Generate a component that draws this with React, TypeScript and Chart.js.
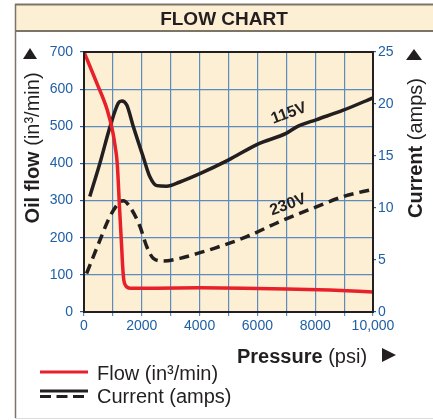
import { useEffect, useRef } from 'react';
import { Chart, registerables } from 'chart.js';

Chart.register(...registerables);

// ---- data ----
const flowPressure = [0, 450, 800, 1000, 1080, 1150, 1230, 1300, 1340, 1380, 1450, 1600, 2500, 4000, 5500, 7000, 8500, 10000];
const flowValues = [700, 615, 545, 483, 445, 400, 280, 180, 120, 85, 70, 64, 64, 65, 64, 62, 59, 54];

const amps115Pressure = [200, 550, 900, 1190, 1310, 1480, 1710, 2050, 2280, 2520, 2860, 3320, 4010, 4990, 5980, 7010, 7360, 8050, 8970, 10000];
const amps115Values = [11.1, 14.3, 17.8, 20.1, 20.3, 19.9, 17.8, 14.9, 13.0, 12.15, 12.1, 12.5, 13.3, 14.6, 16.1, 17.2, 17.8, 18.5, 19.4, 20.6];

const amps230Pressure = [90, 550, 900, 1250, 1360, 1590, 1940, 2170, 2400, 2750, 3320, 4130, 4480, 5630, 6780, 7940, 8970, 10000];
const amps230Values = [3.7, 6.9, 9.2, 10.6, 10.7, 10.1, 8.2, 6.3, 5.16, 4.9, 5.16, 5.8, 6.1, 7.24, 8.7, 10.0, 11.1, 11.8];

const xTickValues = [0, 2000, 4000, 6000, 8000, 10000];
const xTickLabels = ['0', '2000', '4000', '6000', '8000', '10,000'];

const lineLabels = ['115V', '230V'];
const lineLabelPressure = [7090, 7060];
const lineLabelAmps = [19.1, 10.3];

const BEIGE = '#fdefd3';
const BLUE = '#1f5fa6';
const GRID = '#5b8bbf';
const INK = '#231f20';
const RED = '#e8202a';
const FONT = '"Liberation Sans", Arial, Helvetica, sans-serif';

function pts(xs: number[], ys: number[]) {
  return xs.map((x, i) => ({ x, y: ys[i] }));
}

function mixedText(ctx: CanvasRenderingContext2D, parts: [string, string][], x: number, y: number, center: boolean) {
  let total = 0;
  for (const [t, f] of parts) {
    ctx.font = f;
    total += ctx.measureText(t).width;
  }
  let cx = center ? x - total / 2 : x;
  for (const [t, f] of parts) {
    ctx.font = f;
    ctx.fillText(t, cx, y);
    cx += ctx.measureText(t).width;
  }
}

function tri(ctx: CanvasRenderingContext2D, p: number[][]) {
  ctx.beginPath();
  ctx.moveTo(p[0][0], p[0][1]);
  ctx.lineTo(p[1][0], p[1][1]);
  ctx.lineTo(p[2][0], p[2][1]);
  ctx.closePath();
  ctx.fill();
}

const decor = {
  id: 'decor',
  beforeDraw(chart: any) {
    const { ctx, chartArea: a } = chart;
    ctx.save();
    ctx.fillStyle = '#ffffff';
    ctx.fillRect(0, 0, chart.width, chart.height);
    // title band
    ctx.fillStyle = BEIGE;
    ctx.fillRect(15, 4, 418, 27);
    ctx.strokeStyle = '#7b7568';
    ctx.lineWidth = 2;
    ctx.beginPath();
    ctx.moveTo(15, 4.5); ctx.lineTo(433, 4.5);
    ctx.moveTo(15, 31); ctx.lineTo(433, 31);
    ctx.stroke();
    ctx.lineWidth = 1.5;
    ctx.beginPath();
    ctx.moveTo(15.5, 4); ctx.lineTo(15.5, 418);
    ctx.stroke();
    ctx.strokeStyle = '#dcdcdc';
    ctx.lineWidth = 1;
    ctx.beginPath();
    ctx.moveTo(15, 418.5); ctx.lineTo(433, 418.5);
    ctx.stroke();
    // plot background
    ctx.fillStyle = BEIGE;
    ctx.fillRect(a.left, a.top, a.right - a.left, a.bottom - a.top);
    ctx.restore();
  },
  afterDraw(chart: any) {
    const { ctx, chartArea: a, scales } = chart;
    ctx.save();
    // plot frame
    ctx.strokeStyle = INK;
    ctx.lineWidth = 2;
    ctx.strokeRect(a.left, a.top, a.right - a.left, a.bottom - a.top);

    ctx.fillStyle = INK;
    ctx.textBaseline = 'alphabetic';
    // title
    ctx.textAlign = 'center';
    ctx.font = `bold 19px ${FONT}`;
    ctx.fillText('FLOW CHART', 224, 25);
    ctx.textAlign = 'left';

    // left axis title
    ctx.save();
    ctx.translate(39, 148);
    ctx.rotate(-Math.PI / 2);
    mixedText(ctx, [['Oil flow ', `bold 20px ${FONT}`], ['(in³/min)', `20px ${FONT}`]], 0, 0, true);
    ctx.restore();
    // right axis title
    ctx.save();
    ctx.translate(422, 148);
    ctx.rotate(-Math.PI / 2);
    mixedText(ctx, [['Current ', `bold 20px ${FONT}`], ['(amps)', `20px ${FONT}`]], 0, 0, true);
    ctx.restore();
    // x axis title
    mixedText(ctx, [['Pressure ', `bold 20px ${FONT}`], ['(psi)', `20px ${FONT}`]], 237, 363, false);

    // arrows
    tri(ctx, [[23, 59], [37, 59], [30, 48]]);
    tri(ctx, [[406, 60], [422, 60], [414, 49]]);
    tri(ctx, [[382, 348], [382, 362], [396, 355]]);

    // line labels
    ctx.font = `bold 16px ${FONT}`;
    ctx.textAlign = 'center';
    ctx.textBaseline = 'middle';
    lineLabels.forEach((t, i) => {
      const px = scales.x.getPixelForValue(lineLabelPressure[i]);
      const py = scales.y1.getPixelForValue(lineLabelAmps[i]);
      ctx.save();
      ctx.translate(px, py);
      ctx.rotate(-20 * Math.PI / 180);
      ctx.fillText(t, 0, 0);
      ctx.restore();
    });

    // legend
    ctx.textAlign = 'left';
    ctx.textBaseline = 'alphabetic';
    ctx.lineCap = 'butt';
    ctx.strokeStyle = RED;
    ctx.lineWidth = 3;
    ctx.beginPath();
    ctx.moveTo(40, 372); ctx.lineTo(88, 372);
    ctx.stroke();
    ctx.strokeStyle = INK;
    ctx.beginPath();
    ctx.moveTo(40, 391); ctx.lineTo(88, 391);
    ctx.stroke();
    ctx.setLineDash([11, 5.5]);
    ctx.beginPath();
    ctx.moveTo(40, 396.5); ctx.lineTo(88, 396.5);
    ctx.stroke();
    ctx.setLineDash([]);
    ctx.font = `20px ${FONT}`;
    ctx.fillText('Flow (in³/min)', 97, 380);
    ctx.fillText('Current (amps)', 97, 403);
    ctx.restore();
  },
};

export default function App() {
  const ref = useRef<HTMLCanvasElement | null>(null);
  useEffect(() => {
    if (!ref.current) return;
    const chart = new Chart(ref.current, {
      type: 'line',
      data: {
        datasets: [
          {
            label: 'Flow',
            data: pts(flowPressure, flowValues),
            borderColor: RED,
            borderWidth: 3.5,
            pointRadius: 0,
            cubicInterpolationMode: 'monotone',
            yAxisID: 'y',
          },
          {
            label: '115V',
            data: pts(amps115Pressure, amps115Values),
            borderColor: INK,
            borderWidth: 3.5,
            pointRadius: 0,
            cubicInterpolationMode: 'monotone',
            yAxisID: 'y1',
          },
          {
            label: '230V',
            data: pts(amps230Pressure, amps230Values),
            borderColor: INK,
            borderWidth: 3.5,
            borderDash: [10, 6],
            pointRadius: 0,
            cubicInterpolationMode: 'monotone',
            yAxisID: 'y1',
          },
        ],
      },
      options: {
        animation: false,
        responsive: false,
        devicePixelRatio: 1,
        layout: { padding: { top: 52, left: 0, right: 0, bottom: 0 } },
        plugins: { legend: { display: false }, tooltip: { enabled: false }, title: { display: false } },
        scales: {
          x: {
            type: 'linear',
            min: 0,
            max: 10000,
            afterFit: (s: any) => { s.height = 108; },
            ticks: {
              stepSize: 1000,
              autoSkip: false,
              maxRotation: 0,
              color: BLUE,
              font: { family: FONT, size: 14 },
              padding: 2,
              callback: (v: any) => {
                const i = xTickValues.indexOf(Number(v));
                return i >= 0 ? xTickLabels[i] : '';
              },
            },
            grid: { color: GRID, lineWidth: 1.2, tickLength: 4, tickColor: GRID },
            border: { display: false },
          },
          y: {
            type: 'linear',
            position: 'left',
            min: 0,
            max: 700,
            afterFit: (s: any) => { s.width = 84; },
            ticks: { stepSize: 100, color: BLUE, font: { family: FONT, size: 14 }, padding: 7 },
            grid: { color: GRID, lineWidth: 1.2, tickLength: 4, tickColor: BLUE },
            border: { display: false },
          },
          y1: {
            type: 'linear',
            position: 'right',
            min: 0,
            max: 25,
            afterFit: (s: any) => { s.width = 60; },
            ticks: { stepSize: 5, color: BLUE, font: { family: FONT, size: 14 }, padding: 2 },
            grid: { drawOnChartArea: false, tickLength: 3, tickColor: BLUE, lineWidth: 1.2 },
            border: { display: false },
          },
        },
      },
      plugins: [decor],
    } as any);
    return () => chart.destroy();
  }, []);
  return (
    <div style={{ position: 'fixed', left: 0, top: 0, width: 433, height: 420 }}>
      <canvas ref={ref} width={433} height={420} style={{ display: 'block', width: 433, height: 420 }} />
    </div>
  );
}
